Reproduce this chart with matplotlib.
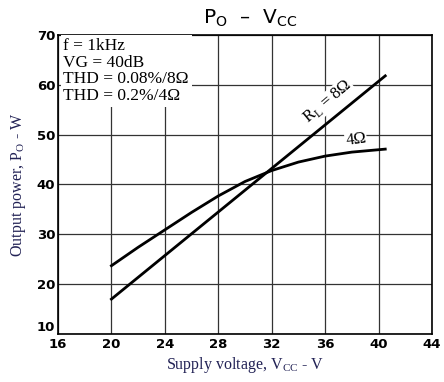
import matplotlib
matplotlib.use("Agg")
import matplotlib.pyplot as plt

# data
vcc_8 = [20, 40.5]
po_8 = [17.0, 61.8]
vcc_4 = [20, 22, 24, 26, 28, 30, 32, 34, 36, 38, 40.5]
po_4 = [23.7, 27.4, 30.9, 34.4, 37.7, 40.6, 42.8, 44.5, 45.7, 46.5, 47.1]
xticks = [16, 20, 24, 28, 32, 36, 40, 44]
yticks = [10, 20, 30, 40, 50, 60, 70]

fig = plt.figure(figsize=(4.44, 3.82), dpi=100)
ax = fig.add_axes([58/444, 1-334/382, (432-58)/444, (334-35)/382])
ax.set_xlim(16, 44)
ax.set_ylim(10, 70)
ax.set_xticks(xticks)
ax.set_yticks(yticks)
ax.set_xticklabels([str(t) for t in xticks], fontsize=9.5, fontweight='bold', family='DejaVu Sans')
ylabs = ax.set_yticklabels([str(t) for t in yticks], fontsize=9.5, fontweight='bold', family='DejaVu Sans')
ylabs[0].set_verticalalignment('bottom')
ax.tick_params(length=0, pad=2)
ax.tick_params(axis='x', pad=3)
ax.grid(True, color='#333333', linewidth=0.9)
ax.set_axisbelow(True)
for s in ax.spines.values():
    s.set_linewidth(1.2)

ax.plot(vcc_8, po_8, color='black', linewidth=2.0)
ax.plot(vcc_4, po_4, color='black', linewidth=2.0)

ax.text(16.4, 69.4, "f = 1kHz\nVG = 40dB\nTHD = 0.08%/8\u03a9\nTHD = 0.2%/4\u03a9",
        family='Liberation Serif', fontsize=12.5, va='top', ha='left', linespacing=1.05,
        bbox=dict(facecolor='white', edgecolor='none', pad=2))
ax.text(36.2, 56.6, "R$_\\mathregular{L}$ = 8\u03a9", family='Liberation Serif',
        fontsize=12, rotation=40, ha='center', va='center',
        bbox=dict(facecolor='white', edgecolor='none', pad=0.5))
ax.text(38.3, 49.0, "4\u03a9", family='Liberation Serif', fontsize=12, ha='center', va='center',
        rotation=8, bbox=dict(facecolor='white', edgecolor='none', pad=0.5))

ax.set_xlabel("Supply voltage, V$_\\mathregular{CC}$ - V", family='Liberation Serif',
              fontsize=11.5, color='#222255', labelpad=3)
ax.set_ylabel("Output power, P$_\\mathregular{O}$ - W", family='Liberation Serif',
              fontsize=11.5, color='#222255', labelpad=6)
fig.text(250/444, 1-18/382, "P$_\\mathregular{O}$  \u2013  V$_\\mathregular{CC}$",
         fontsize=14.5, ha='center', va='center', family='DejaVu Sans')
fig.savefig("out.png", dpi=100)
